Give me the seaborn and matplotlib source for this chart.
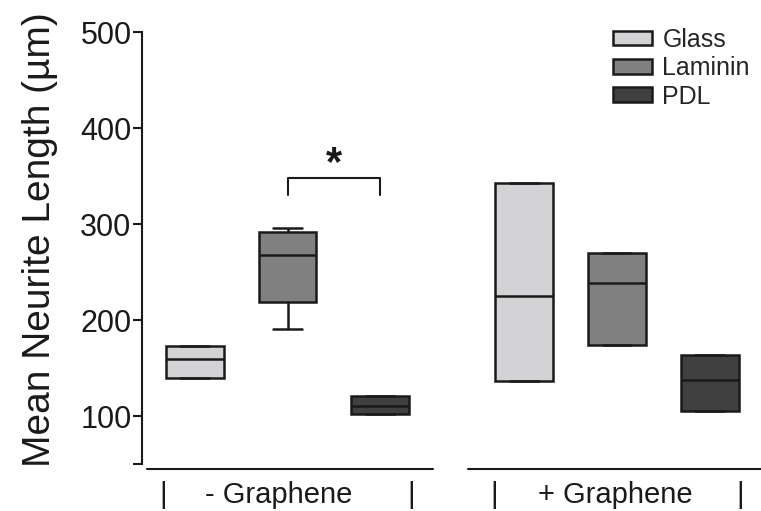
import seaborn as sns
import matplotlib.pyplot as plt
import matplotlib.transforms as mtransforms
import pandas as pd

groups = ["- Graphene", "+ Graphene"]
substrates = ["Glass", "Laminin", "PDL"]
colors = ["#d3d3d5", "#808080", "#404040"]

# box summaries (glass, laminin, pdl for each group)
box_group = ["- Graphene"] * 3 + ["+ Graphene"] * 3
box_substrate = substrates * 2
whisker_low = [140, 190.5, 102, 136.5, 174, 105.5]
q1 = [140, 218.5, 102, 136.5, 174, 105.5]
median = [159.5, 267.5, 110.5, 225, 239, 137.5]
q3 = [173, 292, 121, 342.5, 269.5, 163.5]
whisker_high = [173, 296, 121, 342.5, 269.5, 163.5]

rows = []
for g, s, a, b, c, d, e in zip(box_group, box_substrate, whisker_low, q1, median, q3, whisker_high):
    for v in (a, b, c, d, e):
        rows.append({"group": g, "substrate": s, "length": v})
df = pd.DataFrame(rows)

sns.set_style("ticks")
plt.rcParams["font.family"] = ["Liberation Sans", "DejaVu Sans"]
ink = "#1a1a1a"

fig = plt.figure(figsize=(7.61, 5.11), dpi=100)
ax = fig.add_axes([142 / 761, 1 - 464 / 511, 1 - 142 / 761, (464 - 32) / 511])

width = 0.845
sns.boxplot(data=df, x="group", y="length", hue="substrate", order=groups,
            hue_order=substrates, palette=colors, width=width, gap=0.376,
            whis=(0, 100), linecolor=ink, linewidth=1.8, saturation=1, ax=ax)

ax.set_xlim(-0.4416, 1.437)
ax.set_ylim(50, 500)
ax.set_yticks([50, 100, 200, 300, 400, 500])
ax.set_yticklabels(["", "100", "200", "300", "400", "500"])
ax.set_xticks([])
ax.set_xlabel("")
sns.despine(ax=ax, bottom=True)
ax.spines["left"].set_linewidth(1.5)
ax.spines["left"].set_color(ink)
ax.tick_params(axis="y", length=6.5, width=1.5, pad=1, labelsize=22, color=ink, labelcolor=ink)
ax.set_ylabel("Mean Neurite Length (µm)", fontsize=28, color=ink)
ax.yaxis.set_label_coords(-0.136, 0.5185)

# group lines and labels under the axis
trans = mtransforms.blended_transform_factory(ax.transData, ax.transAxes)
ax.plot([-0.426, 0.442], [-0.0116, -0.0116], transform=trans, clip_on=False, color=ink, lw=1.5)
ax.plot([0.548, 1.45], [-0.0116, -0.0116], transform=trans, clip_on=False, color=ink, lw=1.5)
ax.text(-0.027, -0.090, "- Graphene", transform=trans, ha="center", va="baseline", fontsize=21, color=ink)
ax.text(0.996, -0.090, "+ Graphene", transform=trans, ha="center", va="baseline", fontsize=21, color=ink)
for px in [-0.378, 0.375, 0.627, 1.373]:
    ax.text(px, -0.090, "|", transform=trans, ha="center", va="baseline", fontsize=21, color=ink)

# significance bracket between laminin and pdl (- graphene)
step = width / 3
ax.plot([0, 0, step, step], [330, 348, 348, 330], color=ink, lw=1.5)
ax.text(step / 2, 351, "*", ha="center", va="baseline", fontsize=30, fontweight="bold", color=ink)

sns.move_legend(ax, "upper left", bbox_to_anchor=(613 / 761, 1 - 28 / 511),
                bbox_transform=fig.transFigure, frameon=False, title=None,
                fontsize=18, handlelength=1.57, handleheight=0.52,
                handletextpad=0.4, labelspacing=0.17, borderpad=0, borderaxespad=0)

fig.savefig("out.png", dpi=100)
